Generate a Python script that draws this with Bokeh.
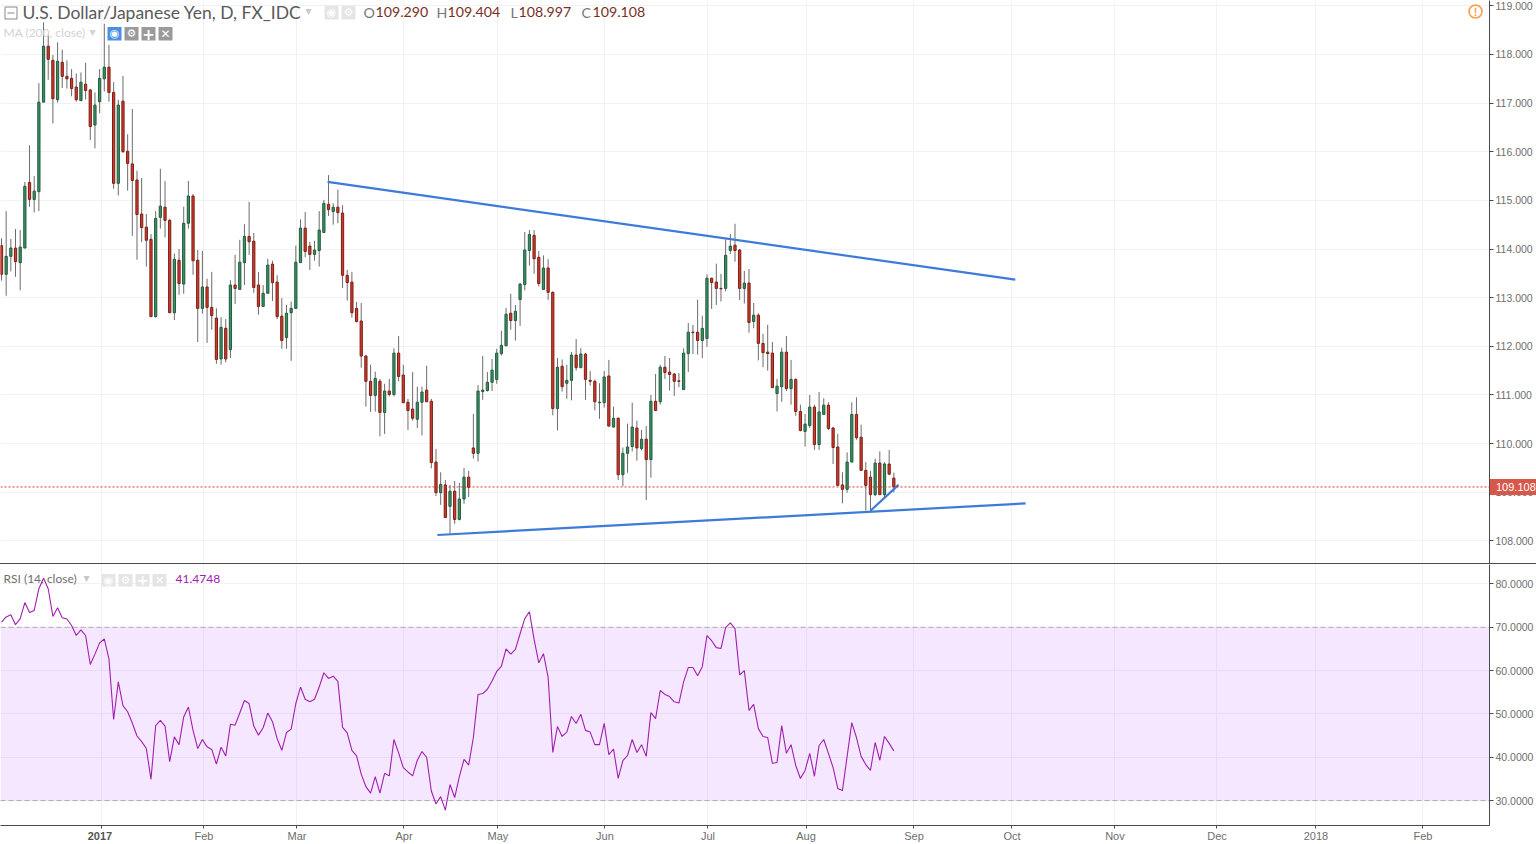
from bokeh.plotting import figure
from bokeh.embed import file_html
from bokeh.resources import INLINE
from bokeh.layouts import column
from bokeh.models import (Range1d, FixedTicker, Grid, Span, BoxAnnotation, Label, LinearAxis,
                          NumeralTickFormatter, Div)

# ---------- data ----------
opens = [114.07,113.48,113.85,114.02,113.72,114.02,115.37,115.02,115.18,117.02,
118.17,117.88,117.07,117.84,117.55,117.51,117.33,117.05,117.39,117.27,
116.55,117.03,117.50,117.74,117.22,115.35,117.04,116.01,115.75,115.42,
114.72,114.45,114.20,112.61,114.65,114.86,114.59,112.69,113.77,113.28,
114.53,115.09,113.77,112.78,113.22,112.80,112.58,111.74,112.37,111.93,
113.26,113.17,113.72,114.26,114.16,113.26,112.82,113.09,113.69,113.32,
112.62,112.18,112.69,112.78,113.72,114.43,114.06,113.89,113.97,114.34,
114.92,114.77,114.86,114.74,113.46,113.32,112.78,112.52,111.80,111.28,
110.99,111.28,110.64,111.08,111.01,111.86,111.41,110.85,110.71,110.50,
110.85,111.10,110.87,109.62,108.99,109.15,108.71,109.02,108.44,108.86,
109.31,109.91,109.80,111.07,111.09,111.26,111.32,111.85,112.01,112.68,
112.53,112.96,113.27,113.97,114.28,113.83,113.17,113.61,113.11,110.72,
111.59,111.24,111.30,111.82,111.56,111.84,111.30,111.28,110.84,110.84,
111.39,110.34,110.52,109.36,109.80,109.94,110.32,109.90,110.09,109.67,
110.87,110.86,111.57,111.47,111.43,111.29,111.11,111.85,112.29,112.29,
112.12,112.16,113.40,113.32,113.19,113.19,113.97,114.08,113.98,113.19,
113.30,112.51,112.64,112.06,111.88,111.86,111.03,111.17,111.88,111.13,
111.32,110.66,110.25,110.37,110.75,109.98,110.60,110.79,110.32,109.93,
109.15,109.06,109.62,110.60,110.13,109.45,109.31,108.95,109.60,108.95,
109.58,109.290]
highs = [114.22,114.78,114.21,114.41,114.39,115.38,116.13,115.50,117.41,118.66,
118.40,117.99,118.25,118.10,117.88,117.70,117.61,117.63,117.83,117.29,
117.22,117.70,118.63,118.20,117.43,117.07,117.56,116.36,116.88,115.61,
115.46,114.72,114.31,114.78,115.65,115.40,114.62,113.91,114.00,114.87,
115.40,115.13,113.98,113.96,113.39,113.53,112.78,112.60,112.56,113.36,
113.88,114.19,114.51,114.97,114.33,113.53,113.26,113.80,113.76,113.46,
112.99,112.85,112.92,114.07,114.61,114.76,114.15,114.17,114.78,115.01,
115.52,114.94,115.22,114.90,113.57,113.53,112.91,112.89,111.82,111.62,
111.48,111.33,111.23,111.33,111.96,112.21,111.62,110.92,111.47,111.17,
111.17,111.60,110.92,109.89,109.41,109.25,109.15,109.23,109.19,109.50,
109.44,110.61,111.20,111.80,111.47,111.74,111.95,112.32,112.79,113.08,
112.85,113.30,114.35,114.39,114.39,113.96,113.87,113.79,113.13,111.76,
111.73,111.62,111.88,112.15,111.96,111.86,111.49,111.32,111.24,111.49,
111.72,110.76,110.54,109.92,110.41,110.84,110.47,110.28,110.36,111.00,
111.43,111.62,111.80,111.76,111.45,111.45,111.96,112.48,112.44,112.96,
112.63,113.48,113.41,113.70,113.49,114.20,114.31,114.52,114.00,113.55,
113.59,112.89,112.68,112.26,112.44,112.09,111.33,111.97,112.21,111.72,
111.34,110.80,110.61,111.00,110.80,111.06,110.93,110.85,110.34,110.20,
109.41,109.82,110.85,110.95,110.39,109.62,109.44,109.69,109.84,109.62,
109.87,109.404]
lows = [113.35,113.04,113.54,113.43,113.15,114.02,114.87,114.75,114.78,117.02,
117.48,116.58,117.01,117.31,117.30,117.14,117.03,117.05,117.07,116.24,
116.07,116.79,117.24,117.03,115.24,115.10,115.98,115.20,114.27,113.78,
114.14,113.64,112.61,112.59,114.42,114.24,112.69,112.54,113.06,113.08,
114.42,113.47,112.09,112.67,112.07,112.34,111.64,111.62,111.67,111.76,
112.87,113.17,113.26,113.88,113.10,112.65,112.82,113.09,112.93,112.56,
111.95,111.95,111.70,112.78,113.72,113.83,113.57,113.76,113.64,114.34,
114.68,114.50,114.53,113.20,112.94,112.59,112.49,111.56,110.76,110.65,
110.66,110.15,110.20,110.97,110.97,111.28,110.84,110.28,110.47,110.32,
110.17,110.86,109.49,108.92,108.74,108.48,108.14,108.35,108.42,108.76,
108.90,109.69,109.63,110.90,111.07,111.08,111.23,111.81,112.01,112.34,
112.12,112.42,113.15,113.66,113.49,113.23,113.17,112.95,110.58,110.27,
111.07,110.92,110.89,111.50,111.56,110.90,111.19,110.68,110.51,110.74,
110.35,110.33,109.25,109.12,109.40,109.84,109.65,109.86,108.84,109.30,
110.68,110.80,111.33,111.09,110.98,111.16,111.11,111.47,111.84,111.83,
111.76,111.99,112.77,112.85,112.92,113.13,113.90,113.74,112.95,112.88,
112.28,112.37,111.71,111.57,111.50,111.15,110.66,110.86,111.08,110.80,
110.57,110.25,109.94,110.32,109.87,109.87,110.60,110.28,109.58,109.14,
108.77,108.99,109.62,110.08,109.45,108.62,108.62,108.92,108.95,108.87,
109.37,108.997]
closes = [113.48,113.85,114.02,113.74,114.04,115.29,115.02,115.19,117.02,118.17,
117.90,117.09,117.86,117.55,117.50,117.30,117.07,117.43,117.26,116.52,
116.96,117.51,117.74,117.22,115.35,116.96,116.00,115.76,115.41,114.71,
114.44,114.18,112.61,114.63,114.88,114.59,112.69,113.79,113.29,114.53,
115.09,113.76,112.78,113.22,112.80,112.63,111.73,112.39,111.74,113.26,
113.19,113.73,114.26,114.15,113.21,112.82,113.09,113.67,113.31,112.61,
112.12,112.68,112.78,113.73,114.43,113.95,113.89,113.98,114.39,114.94,
114.81,114.86,114.75,113.46,113.31,112.69,112.51,111.80,111.28,110.99,
111.34,110.64,111.08,111.01,111.86,111.38,110.84,110.68,110.52,110.85,
111.06,110.86,109.61,108.99,109.16,108.48,109.02,108.44,108.86,109.31,
109.10,109.80,111.08,111.10,111.26,111.51,111.86,112.02,112.66,112.53,
112.72,113.28,113.98,114.30,113.80,113.29,113.61,113.11,110.72,111.57,
111.17,111.30,111.82,111.56,111.84,111.32,111.28,110.86,110.85,111.37,
110.36,110.52,109.36,109.80,109.93,110.34,109.91,110.09,109.67,110.87,
110.68,111.57,111.46,111.42,111.28,111.28,111.86,112.29,112.28,112.12,
112.37,113.40,113.31,113.19,113.18,113.87,114.06,113.97,113.19,113.30,
112.49,112.64,112.06,111.87,111.85,111.15,111.18,111.88,111.13,111.32,
110.66,110.27,110.40,110.75,109.98,110.65,110.79,110.31,109.92,109.14,
109.06,109.62,110.60,110.12,109.45,109.14,108.95,109.60,108.95,109.58,
109.37,109.108]
rsi = [71.2,72.4,72.9,70.6,72.0,75.7,73.4,73.9,78.9,81.3,
78.9,72.5,74.5,72.2,71.9,70.4,68.1,69.4,68.1,61.4,
63.8,66.4,67.3,62.7,48.7,57.4,51.9,50.5,47.9,44.9,
43.6,42.0,34.9,47.3,48.5,47.2,39.0,44.7,42.9,49.3,
51.6,46.2,42.0,44.1,42.4,41.8,38.4,42.3,40.3,47.6,
47.4,50.2,53.1,52.4,47.2,45.1,46.8,50.2,48.2,44.3,
41.6,45.7,46.5,52.4,56.2,53.4,52.8,53.4,56.2,59.5,
58.2,58.7,57.5,46.9,45.6,41.6,40.3,36.1,33.2,31.7,
35.5,31.7,36.3,35.7,44.1,41.0,37.6,36.6,35.7,39.3,
41.3,40.0,32.2,29.2,30.9,27.8,33.7,30.7,35.5,
39.5,38.2,44.55,54.5,54.7,55.7,57.6,59.8,61.0,65.0,
63.8,64.9,68.5,72.0,73.6,67.2,61.8,63.9,58.5,41.1,
47.1,44.8,45.8,49.4,47.8,49.9,46.2,45.8,42.9,42.9,
47.8,40.6,41.9,35.1,39.2,40.4,44.1,41.1,42.9,40.2,
50.3,48.9,55.4,54.5,54.0,52.8,52.5,57.4,60.7,60.7,
58.8,60.9,68.1,66.9,65.3,65.1,69.9,71.0,69.7,59.0,
60.0,50.8,52.2,46.6,44.8,44.55,38.6,38.8,47.3,40.9,
42.9,38.1,35.1,36.95,40.9,35.6,42.7,44.1,40.9,37.6,
32.8,32.3,40.2,48.0,44.55,40.2,38.3,36.95,43.4,39.3,
44.8,43.2,41.4748]
n = min(len(opens), len(highs), len(lows), len(closes), len(rsi))
bars = list(range(n))

month_ticks = [21.30,43.34,63.25,86.15,106.27,129.17,151.22,172.20,195.31,216.29,238.33,260.17,281.36,304.26]
month_labels = ["2017","Feb","Mar","Apr","May","Jun","Jul","Aug","Sep","Oct","Nov","Dec","2018","Feb"]
price_ticks = [108,109,110,111,112,113,114,115,116,117,118,119]
rsi_ticks = [30,40,50,60,70,80]
last_price = 109.108
trend_x0 = [69.8, 93.3, 186.0]
trend_x1 = [217.0, 219.2, 192.0]
trend_y0 = [115.38, 108.12, 108.62]
trend_y1 = [113.37, 108.77, 109.15]

# ---------- styles ----------
FONT = "Liberation Sans"
HEAD = "Lato"
AXC = "#4a4a4a"
TXT = "#6e6e6e"
GRID = "#f2f2f2"
UP, UPB = "#3e8f64", "#1f5c3d"
DN, DNB = "#d3392b", "#7a1f15"
W, RM = 1536, 47
xr = Range1d(-0.214, 318.5)

def base(h, yr, mb):
    f = figure(width=W, height=h, x_range=xr, y_range=yr, output_backend="svg", toolbar_location=None,
               x_axis_location=None, y_axis_location="right", min_border_left=0, min_border_right=RM,
               min_border_top=0, min_border_bottom=mb, outline_line_color=None,
               background_fill_color="white", border_fill_color="white")
    f.ygrid.grid_line_color = None
    f.xgrid.grid_line_color = None
    f.add_layout(Grid(dimension=0, ticker=FixedTicker(ticks=month_ticks), grid_line_color=GRID, grid_line_width=1, level="underlay"))
    return f

def style_y(f, ticks, fmt, standoff):
    a = f.yaxis[0]
    a.ticker = FixedTicker(ticks=ticks)
    a.formatter = NumeralTickFormatter(format=fmt)
    a.axis_line_color = AXC
    a.major_tick_line_color = AXC
    a.major_tick_in = 0
    a.major_tick_out = 4
    a.minor_tick_line_color = None
    a.major_label_text_color = TXT
    a.major_label_text_font = FONT
    a.major_label_text_font_size = "10.5px"
    a.major_label_standoff = standoff
    f.add_layout(Grid(dimension=1, ticker=FixedTicker(ticks=ticks), grid_line_color=GRID, grid_line_width=1, level="underlay"))

def txt(f, x, y, text, color=TXT, size="12px", font=FONT, style="normal", align="left"):
    f.add_layout(Label(x=x, y=y, x_units="canvas", y_units="canvas", text=text, text_color=color,
                text_font=font, text_font_size=size, text_font_style=style, text_align=align,
                text_baseline="middle"))

def box(f, l, t, r, b, fill, line=None, radius=0, lw=1):
    f.add_layout(BoxAnnotation(left=l, right=r, top=t, bottom=b, left_units="canvas", right_units="canvas",
                       top_units="canvas", bottom_units="canvas", fill_color=fill or "white", fill_alpha=1 if fill else 0,
                       line_color=line or "white", line_width=lw, line_alpha=1 if line else 0, border_radius=radius))

def overlay(text, left, top, w, h, **css):
    base_css = {"position": "absolute", "left": f"{left}px", "top": f"{top}px", "z-index": "20",
                "font-family": FONT, "font-size": "11px", "line-height": f"{h}px", "overflow": "hidden",
                "white-space": "nowrap"}
    base_css.update(css)
    return Div(text=text, width=w, height=h, margin=0, styles=base_css)

# ---------- price panel ----------
px_per = 48.64
p1 = base(564, Range1d(108 - 23.65 / px_per, 119 + 5.35 / px_per), 0)
style_y(p1, price_ticks, "0.000", 2)

up = [i for i in bars if closes[i] >= opens[i]]
dn = [i for i in bars if closes[i] < opens[i]]
p1.segment(x0=bars, x1=bars, y0=lows[:n], y1=highs[:n], line_color="#6c6c6c", line_width=1)
p1.vbar(x=up, width=0.48, bottom=[opens[i] for i in up], top=[closes[i] for i in up], fill_color=UP, line_color=UPB, line_width=1)
p1.vbar(x=dn, width=0.48, bottom=[closes[i] for i in dn], top=[opens[i] for i in dn], fill_color=DN, line_color=DNB, line_width=1)
p1.add_layout(Span(location=last_price, dimension="width", line_color="#d93a25", line_width=1, line_dash="2 2"))
p1.segment(x0=trend_x0, x1=trend_x1, y0=trend_y0, y1=trend_y1, line_color="#3d7bd9", line_width=2.2)

# header row
box(p1, 4.5, 6.5, 16.5, 18.5, None, "#888888")
box(p1, 7, 12, 14, 13, "#888888")
txt(p1, 22, 11.5, "U.S. Dollar/Japanese Yen, D, FX_IDC", "#5a5a5a", "17.5px", HEAD)
txt(p1, 305, 10, "▾", "#c8c8c8", "12px", "DejaVu Sans")
box(p1, 324, 5, 338, 19, "#e5e5e5")
box(p1, 341, 5, 355, 19, "#e5e5e5")
txt(p1, 331, 12, "◉", "#ffffff", "11px", "DejaVu Sans", align="center")
txt(p1, 348, 12, "⚙", "#ffffff", "11px", "DejaVu Sans", align="center")
for lab_x, lab, val_x, val in [(363, "O", 375, "109.290"), (436, "H", 447, "109.404"),
                               (510, "L", 518, "108.997"), (581, "C", 592, "109.108")]:
    txt(p1, lab_x, 11.5, lab, "#777777", "14.2px", HEAD)
    txt(p1, val_x, 11.5, val, "#7a2f25", "14.2px", HEAD)

# MA row
txt(p1, 3, 32, "MA (200, close)", "#d2d2d2", "12px", HEAD)
txt(p1, 89, 31, "▾", "#d2d2d2", "12px", "DejaVu Sans")
box(p1, 107, 26.5, 121, 40, "#4a90e2")
for bx in (124, 141, 158):
    box(p1, bx, 26.5, bx + 14, 40, "#9a9a9a")
txt(p1, 114, 33, "◉", "#ffffff", "11px", "DejaVu Sans", align="center")
txt(p1, 131, 33, "⚙", "#ffffff", "11px", "DejaVu Sans", align="center")
txt(p1, 148, 33, "+", "#ffffff", "15px", "DejaVu Sans", "bold", "center")
txt(p1, 165, 33, "✕", "#ffffff", "12px", "DejaVu Sans", align="center")

# warning icon
box(p1, 1468.5, 4.5, 1481.5, 17.5, None, "#ff9e4a", 7, 1.6)
txt(p1, 1475, 11, "!", "#ff9e4a", "11px", FONT, "bold", "center")

# ---------- RSI panel ----------
rsi_per = 4.34
top_y = 30 + (800.5 - 564) / rsi_per
bot_y = 30 - (825.5 - 800.5) / rsi_per
p2 = base(280, Range1d(bot_y, top_y), 18)
style_y(p2, rsi_ticks, "0.0000", 2)
p2.add_layout(BoxAnnotation(bottom=30, top=70, fill_color="#9915ff", fill_alpha=0.1, line_alpha=0, level="underlay"))
for lvl in (30, 70):
    p2.add_layout(Span(location=lvl, dimension="width", line_color="#b5a5bd", line_width=1, line_dash="5 3", level="underlay"))
p2.line(x=bars, y=rsi[:n], line_color="#a020b0", line_width=1.1)

ax = LinearAxis(ticker=FixedTicker(ticks=month_ticks),
                major_label_overrides={t: ("" if l == "2017" else l) for t, l in zip(month_ticks, month_labels)})
ax.axis_line_color = AXC
ax.major_tick_line_color = AXC
ax.major_tick_in = 0
ax.major_tick_out = 3
ax.minor_tick_line_color = None
ax.major_label_text_color = TXT
ax.major_label_text_font = FONT
ax.major_label_text_font_size = "11px"
ax.major_label_standoff = 1
p2.add_layout(ax, "below")

txt(p2, 3, 14, "RSI (14, close)", "#6e6e6e", "12px", HEAD)
txt(p2, 83, 13, "▾", "#c8c8c8", "12px", "DejaVu Sans")
for bx in (101, 118, 135, 152):
    box(p2, bx, 9.5, bx + 14, 22, "#e5e5e5")
txt(p2, 108, 15.5, "◉", "#ffffff", "11px", "DejaVu Sans", align="center")
txt(p2, 125, 15.5, "⚙", "#ffffff", "11px", "DejaVu Sans", align="center")
txt(p2, 142, 15.5, "+", "#ffffff", "14px", "DejaVu Sans", "bold", "center")
txt(p2, 159, 15.5, "✕", "#ffffff", "11px", "DejaVu Sans", align="center")
txt(p2, 175, 14, "41.4748", "#a020b0", "12px", HEAD)

# marks that sit outside the plot frames
separator = overlay("", 0, 563, W, 1, **{"background-color": AXC})
badge = overlay("109.108", 1490, 479, 46, 16, **{"background-color": "#d9574a", "color": "#ffffff", "padding-left": "6px", "box-sizing": "border-box"})
year = overlay(month_labels[0], 80, 829, 40, 14, **{"color": "#555555", "font-weight": "bold", "text-align": "center"})

page = column(p1, p2, separator, badge, year, spacing=0, margin=0)
open("out.html", "w").write(file_html(page, INLINE))
